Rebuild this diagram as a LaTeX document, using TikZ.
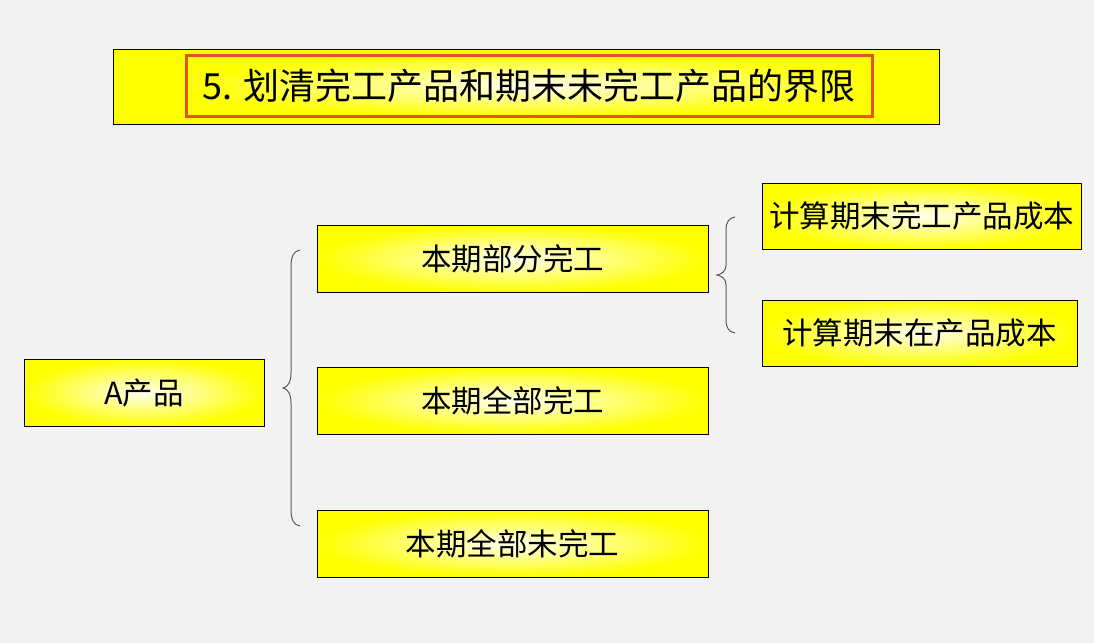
\documentclass[tikz,border=0pt]{standalone}
\usepackage{fontspec}
\setmainfont{Noto Sans CJK SC}
\usetikzlibrary{positioning}
\definecolor{bg}{RGB}{242,242,242}
\definecolor{ylw}{RGB}{255,255,0}
\definecolor{lite}{RGB}{255,255,240}
\definecolor{redb}{RGB}{232,80,40}
\definecolor{brc}{RGB}{90,90,90}
\tikzset{
  ybox/.style={draw=black, line width=0.9pt, shading=radial, inner color=lite, outer color=ylw,
    minimum height=67pt, inner sep=0pt, font=\fontsize{30.5}{34}\selectfont, text=black},
  bracepath/.style={draw=brc, line width=1pt},
}
\begin{document}
\begin{tikzpicture}[x=1pt,y=-1pt]
\useasboundingbox (0,0) rectangle (1094,643);
\fill[bg] (0,0) rectangle (1094,643);
% title
\node[draw=black, line width=0.9pt, fill=ylw, minimum width=826pt, minimum height=75pt, inner sep=0pt] (tbox) at (526,86.5) {};
\node[draw=redb, line width=3pt, shading=radial, inner color=lite, outer color=ylw, minimum width=686pt, minimum height=61pt, inner sep=0pt, font=\fontsize{36}{40}\selectfont] (title) at (529,85.5) {5. 划清完工产品和期末未完工产品的界限};
% boxes
\node[ybox, minimum width=240pt] (a) at (144,392.5) {A产品};
\node[ybox, minimum width=391pt] (b1) at (512.5,258.5) {本期部分完工};
\node[ybox, minimum width=391pt] (b2) at (512.5,400.5) {本期全部完工};
\node[ybox, minimum width=391pt] (b3) at (512.5,543.5) {本期全部未完工};
\node[ybox, minimum width=319pt, minimum height=66pt] (c1) at (921.5,216) {计算期末完工产品成本};
\node[ybox, minimum width=315pt, minimum height=66pt] (c2) at (919.5,333) {计算期末在产品成本};
% left brace
\draw[bracepath] (300,250) .. controls (294,251) and (291,256) .. (291,266) -- (291,373)
  .. controls (291,382) and (288,387) .. (283,388)
  .. controls (288,389) and (291,394) .. (291,403) -- (291,510)
  .. controls (291,520) and (294,525) .. (300,526);
% right brace
\draw[bracepath] (735,217) .. controls (729,218) and (726,222) .. (726,230) -- (726,265)
  .. controls (726,271) and (722,274) .. (717,275)
  .. controls (722,276) and (726,279) .. (726,285) -- (726,320)
  .. controls (726,328) and (729,332) .. (735,333);
\end{tikzpicture}
\end{document}
